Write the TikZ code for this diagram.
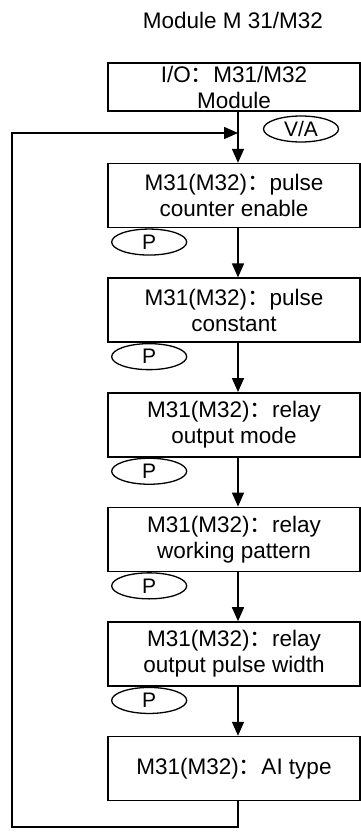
\documentclass[tikz,border=0pt]{standalone}
\usepackage{fontspec}
\setmainfont{Liberation Sans}
\newfontfamily\cjk{Noto Sans CJK SC}
\usetikzlibrary{arrows.meta, positioning, shapes.geometric}
\newcommand{\fcolon}{{\cjk ：}}

\begin{document}
\begin{tikzpicture}[
  x=1pt, y=-1pt,
  node distance=49pt,
  block/.style={rectangle, draw, line width=1.6pt, minimum width=252pt, minimum height=64pt, align=center, inner sep=2pt, font=\fontsize{22.5}{26}\selectfont},
  tag/.style={ellipse, draw, line width=1.3pt, minimum width=75pt, minimum height=26pt, inner sep=0pt, font=\fontsize{21}{21}\selectfont},
  arrow/.style={line width=1.6pt, -{Triangle[length=14pt, width=12pt]}}
  ]
  \useasboundingbox (0,0) rectangle (361,832);

  % ========== title and module ==========
  \node[font=\fontsize{22.5}{26}\selectfont] (title) at (233,20) {Module M 31/M32};
  \node[block, minimum height=48pt] (b0) at (234,87) {I/O\fcolon M31/M32\\Module};

  % ========== parameter chain ==========
  \node[block, below=51pt of b0] (b1) {M31(M32)\fcolon pulse\\counter enable};
  \node[block, below=of b1] (b2) {M31(M32)\fcolon pulse\\constant};
  \node[block, below=of b2] (b3) {M31(M32)\fcolon relay\\output mode};
  \node[block, below=of b3] (b4) {M31(M32)\fcolon relay\\working pattern};
  \node[block, below=of b4] (b5) {M31(M32)\fcolon relay\\output pulse width};
  \node[block, below=of b5] (b6) {M31(M32)\fcolon AI type};

  % keys
  \node[tag] (va) at (301,129) {V/A};
  \foreach \b in {b1,b2,b3,b4,b5}
    \node[tag, below right=4pt and 15pt of \b.south west] (p\b) {P};

  % ========== connectors ==========
  \coordinate (spine) at (238,0);
  \coordinate (join) at (238,133);
  \coordinate (loop) at (12,827);
  \foreach \a/\b in {b0/b1, b1/b2, b2/b3, b3/b4, b4/b5, b5/b6}
    \draw[arrow] (\a.south -| spine) -- (\b.north -| spine);
  \draw[arrow] (b6.south -| spine) |- (loop) |- (join);
\end{tikzpicture}
\end{document}
